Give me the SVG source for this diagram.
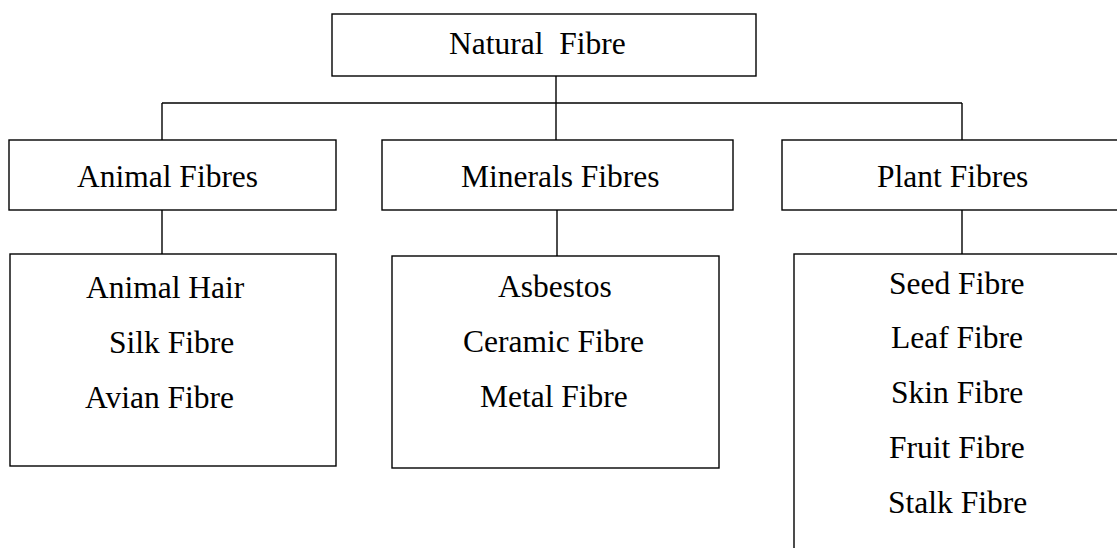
<svg xmlns="http://www.w3.org/2000/svg" width="1117" height="548" viewBox="0 0 1117 548">
<style>
rect{fill:#fff;stroke:#000;stroke-width:1.4}
line{stroke:#000;stroke-width:1.4}
text{font-family:"Liberation Serif","Times New Roman",Times,serif;font-size:31.5px;fill:#000}
</style>
<rect x="0" y="0" width="1117" height="548" style="stroke:none"/>
<g id="connectors">
<line x1="556" y1="76" x2="556" y2="140"/>
<line x1="162" y1="103" x2="962" y2="103"/>
<line x1="162" y1="103" x2="162" y2="140"/>
<line x1="962" y1="103" x2="962" y2="140"/>
<line x1="162" y1="210" x2="162" y2="254"/>
<line x1="557" y1="210" x2="557" y2="256"/>
<line x1="962" y1="210" x2="962" y2="254"/>
</g>
<g id="natural">
<rect x="332" y="14" width="424" height="62"/>
<text x="449" y="54" xml:space="preserve">Natural  Fibre</text>
</g>
<g id="animal">
<rect x="9" y="140" width="327" height="70"/>
<text x="77" y="187">Animal Fibres</text>
</g>
<g id="minerals">
<rect x="382" y="140" width="351" height="70"/>
<text x="461" y="187">Minerals Fibres</text>
</g>
<g id="plant">
<rect x="782" y="140" width="345" height="70"/>
<text x="877" y="187">Plant Fibres</text>
</g>
<g id="animal-list">
<rect x="10" y="254" width="326" height="212"/>
<text x="86" y="298">Animal Hair</text>
<text x="109" y="353">Silk Fibre</text>
<text x="85" y="408">Avian Fibre</text>
</g>
<g id="minerals-list">
<rect x="392" y="256" width="327" height="212"/>
<text x="498" y="297">Asbestos</text>
<text x="463" y="352">Ceramic Fibre</text>
<text x="480" y="407">Metal Fibre</text>
</g>
<g id="plant-list">
<rect x="794" y="254" width="340" height="310"/>
<text x="889" y="294">Seed Fibre</text>
<text x="891" y="348">Leaf Fibre</text>
<text x="891" y="403">Skin Fibre</text>
<text x="889" y="458">Fruit Fibre</text>
<text x="888" y="513">Stalk Fibre</text>
</g>
</svg>
